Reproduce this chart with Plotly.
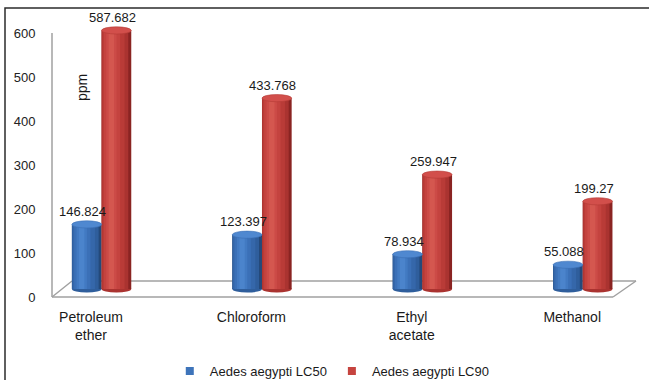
import plotly.graph_objects as go

categories = ["Petroleum<br>ether", "Chloroform", "Ethyl<br>acetate", "Methanol"]
lc50 = [146.824, 123.397, 78.934, 55.088]
lc90 = [587.682, 433.768, 259.947, 199.27]
series_names = ["Aedes aegypti LC50", "Aedes aegypti LC90"]
y_ticks = [0, 100, 200, 300, 400, 500, 600]
y_title = "ppm"

W, H = 649, 380
FONT = "Liberation Sans"
TXT = "#1a1a1a"


def px(x):
    return x / W


def py(y):
    return 1 - y / H


# cylinder shading layers: (width fraction, centre offset fraction, colour)
geom = [(1.00, 0.00), (0.90, -0.05), (0.75, -0.10), (0.55, -0.15), (0.35, -0.17), (0.18, -0.17)]
blue_cols = ["#24497a", "#2f5e9c", "#3567aa", "#3b70b7", "#427ac2", "#4b84cc"]
red_cols = ["#8a2422", "#aa3330", "#b93b37", "#c4433f", "#cc4b47", "#d4574f"]
series = [
    (lc50, blue_cols, "#4f88d0", "#3b6fb3"),
    (lc90, red_cols, "#d24f4b", "#b33a36"),
]

shift = 0.066
bw = 0.185
k = 0.44  # px per unit on bar axis
ell = 3.6 / k  # ellipse half height in data units

fig = go.Figure()
shapes = []
annotations = []

for s, (vals, cols, topc, topl) in enumerate(series):
    centers = [i + shift + (s - 0.5) * bw for i in range(len(categories))]
    for (wf, off), col in zip(geom, cols):
        fig.add_trace(go.Bar(
            x=[c + off * bw for c in centers], y=vals,
            width=[wf * bw] * len(vals),
            marker=dict(color=col, line=dict(width=0)),
            xaxis="x", yaxis="y2", showlegend=False, hoverinfo="skip",
        ))
    for c, v in zip(centers, vals):
        shapes.append(dict(type="circle", xref="x", yref="y2",
                           x0=c - bw / 2, x1=c + bw / 2, y0=-ell, y1=ell,
                           fillcolor=cols[1], line=dict(width=0), layer="below"))
        shapes.append(dict(type="circle", xref="x", yref="y2",
                           x0=c - bw / 2, x1=c + bw / 2, y0=v - ell, y1=v + ell,
                           fillcolor=topc, line=dict(width=0.6, color=topl), layer="above"))
        annotations.append(dict(x=c, y=v, xref="x", yref="y2", text=f"{v:g}",
                                showarrow=False, xshift=-4, yshift=13,
                                font=dict(family=FONT, size=13, color=TXT)))

# legend entries
for name, col in zip(series_names, ["#3e74ba", "#c6443f"]):
    fig.add_trace(go.Scatter(x=[None], y=[None], mode="markers", name=name,
                             marker=dict(symbol="square", size=8, color=col),
                             xaxis="x", yaxis="y"))

# floor and axis line decorations (pixel positions)
gray = "#a0a0a0"
floor = [((52, 297), (613, 297)), ((613, 297), (636, 281)), ((636, 281), (72, 281)),
         ((72, 281), (52, 297)), ((52, 297), (52, 33))]
for (xa, ya), (xb, yb) in floor:
    shapes.append(dict(type="line", xref="paper", yref="paper",
                       x0=px(xa), y0=py(ya), x1=px(xb), y1=py(yb),
                       line=dict(color=gray, width=1.5), layer="below"))

# outer border (right and bottom edges lie outside the picture)
shapes.append(dict(type="rect", xref="paper", yref="paper",
                   x0=px(5), y0=py(8), x1=1.1, y1=-0.1,
                   line=dict(color="#2b2b2b", width=1.5), fillcolor="rgba(0,0,0,0)"))

annotations.append(dict(text=y_title, xref="paper", yref="paper", x=px(82), y=py(88),
                        xanchor="center", yanchor="middle",
                        showarrow=False, textangle=-90,
                        font=dict(family=FONT, size=14, color=TXT)))

X0 = -91 / 160.4
X1 = (W - 91) / 160.4

fig.update_layout(
    width=W, height=H, autosize=False,
    margin=dict(l=0, r=0, t=0, b=0, autoexpand=False),
    paper_bgcolor="white", plot_bgcolor="rgba(0,0,0,0)",
    barmode="overlay",
    font=dict(family=FONT, size=13, color=TXT),
    xaxis=dict(domain=[0, 1], range=[X0, X1], tickvals=list(range(len(categories))),
               ticktext=categories, showgrid=False, zeroline=False, showline=False,
               ticks="outside", ticklen=7, tickcolor="rgba(0,0,0,0)",
               tickfont=dict(family=FONT, size=14, color=TXT), anchor="y",
               fixedrange=True, automargin=False),
    yaxis=dict(domain=[py(297), py(33)], range=[0, 600], tickvals=y_ticks,
               anchor="free", position=px(52), showgrid=False, zeroline=False,
               showline=False, ticks="outside", ticklen=14, tickcolor="rgba(0,0,0,0)",
               tickfont=dict(family=FONT, size=13, color="#222"), automargin=False),
    yaxis2=dict(domain=[py(289 + 20 * k), py(25)], range=[-20, 600], visible=False,
                anchor="x", showgrid=False, zeroline=False),
    shapes=shapes,
    annotations=annotations,
    showlegend=True,
    legend=dict(orientation="h", x=0.512, xanchor="center", y=py(371), yanchor="middle",
                font=dict(family=FONT, size=13, color=TXT), itemwidth=30,
                bgcolor="rgba(0,0,0,0)"),
)

fig.write_html("out.html")
